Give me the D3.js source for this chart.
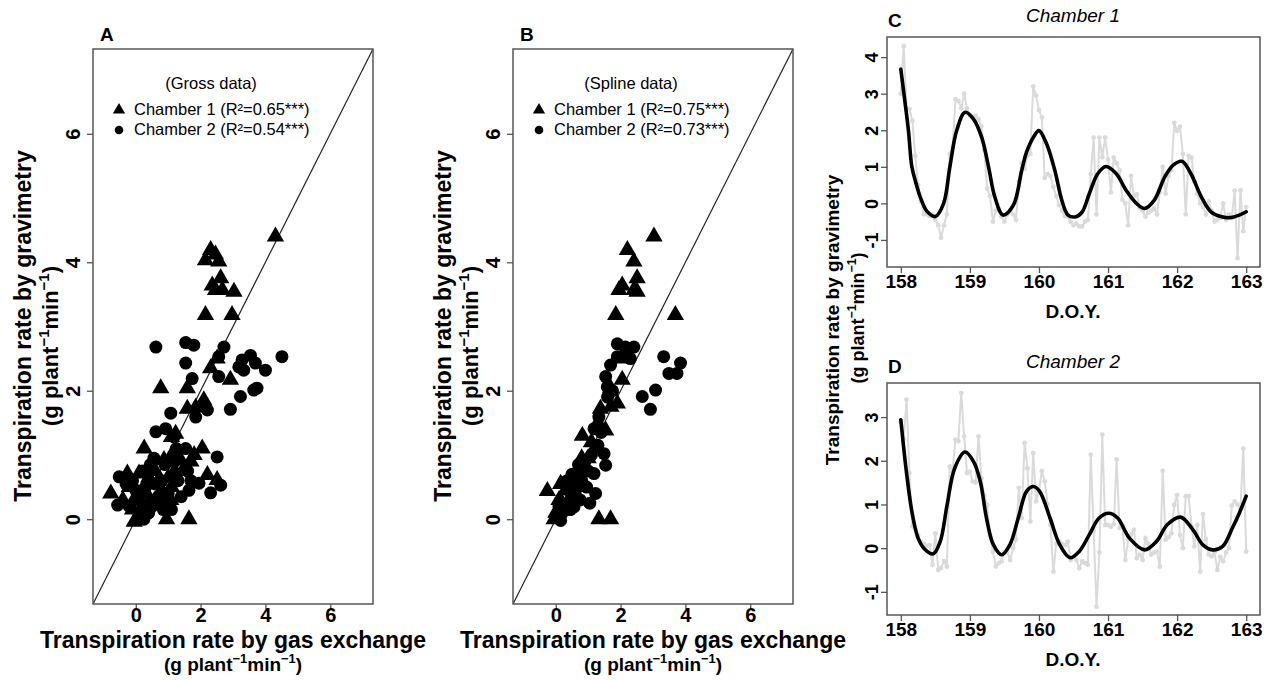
<!DOCTYPE html>
<html>
<head>
<meta charset="utf-8">
<script src="https://cdn.jsdelivr.net/npm/d3@7"></script>
<style>
  body { margin: 0; background: #fff; }
  text { font-family: 'Liberation Sans', Arial, Helvetica, sans-serif; }
</style>
</head>
<body>
<svg id="fig" width="1275" height="680"></svg>
<script>
// ---- data ----
// panel A (gross data): [gas exchange, gravimetry]
const grossCh1 = [[4.31,4.40],[2.31,4.19],[2.15,4.03],[2.56,4.01],[2.46,4.12],[2.62,3.75],[2.36,3.64],[2.46,3.57],
  [2.67,3.57],[3.03,3.54],[2.15,3.18],[2.97,3.18],[2.31,2.35],[2.51,2.50],[2.92,2.17],[0.77,2.04],[1.59,2.04],
  [2.10,1.85],[1.59,1.72],[1.85,1.74],[1.23,1.33],[1.10,1.28],[0.26,1.10],[2.05,1.10],[1.13,1.02],[2.21,0.69],
  [2.51,0.61],[-0.77,0.40],[-0.26,0.71],[0.10,0.71],[0.95,0.00],[1.64,0.00],[-0.05,-0.04],[0.05,0.00],[1.08,0.30],
  [1.38,0.92],[0.87,0.92],[0.50,0.55],[0.30,0.40],[0.20,0.20],[0.60,0.30],[-0.10,0.15],[0.15,0.05],[0.40,0.65],
  [0.70,0.60],[1.00,0.65],[1.20,0.75],[0.80,0.45],[-0.40,0.30],[-0.20,0.50],[0.00,0.35],[1.50,0.80],[1.70,0.90],
  [0.60,0.75],[0.30,0.15],[0.90,0.25],[1.10,0.50],[0.45,0.30],[1.80,1.00],[2.00,1.75]];
const grossCh2 = [[0.62,2.68],[1.54,2.75],[1.79,2.71],[2.72,2.68],[2.56,2.53],[1.54,2.43],[1.74,2.19],[2.56,2.22],
  [3.28,2.48],[3.54,2.55],[3.69,2.43],[4.00,2.32],[4.51,2.53],[3.33,2.32],[3.18,2.37],[3.74,2.04],[3.64,2.01],
  [3.23,1.91],[2.92,1.71],[1.08,1.65],[1.85,1.59],[2.21,1.70],[0.62,1.36],[0.92,1.41],[1.18,1.28],[1.54,1.10],
  [0.56,0.95],[2.51,0.97],[-0.51,0.66],[2.62,0.53],[2.31,0.41],[1.64,0.45],[1.95,0.56],[-0.56,0.22],[0.90,0.85],
  [1.20,0.90],[0.30,0.50],[0.00,0.45],[-0.20,0.20],[0.50,0.20],[0.80,0.60],[1.00,0.40],[1.30,0.60],[0.20,0.75],
  [0.40,0.10],[-0.30,0.55],[0.70,0.35],[1.40,0.35],[0.10,0.30],[0.60,0.55],[1.10,0.15],[0.25,0.00],[-0.10,0.60],
  [1.60,0.75],[0.85,0.15],[0.45,0.85],[1.25,1.10],[1.70,0.60]];

// panel B (spline data)
const splineCh1 = [[3.03,4.40],[2.21,4.19],[2.41,4.01],[2.51,3.75],[2.05,3.64],[1.95,3.57],[2.41,3.57],[2.51,3.54],
  [1.85,3.18],[3.69,3.18],[2.05,2.17],[1.69,2.04],[1.90,1.80],[1.38,1.72],[1.54,1.38],[0.82,1.30],[-0.26,0.44],
  [1.33,0.00],[1.69,0.00],[1.20,1.10],[1.00,0.95],[0.70,0.75],[0.50,0.60],[0.30,0.45],[0.10,0.30],[0.00,0.10],
  [0.20,0.25],[0.90,0.80],[0.60,0.50],[1.30,1.50],[1.70,1.75],[2.00,2.50],[0.40,0.30],[0.15,0.55],[-0.05,0.00],
  [1.10,1.20],[0.80,0.95]];
const splineCh2 = [[1.90,2.73],[2.41,2.68],[2.15,2.68],[1.90,2.53],[1.69,2.40],[1.54,2.22],[1.59,2.06],[2.20,2.60],
  [2.30,2.50],[3.33,2.53],[3.85,2.43],[3.49,2.27],[3.74,2.27],[2.67,1.91],[3.08,2.01],[2.92,1.71],[1.33,1.59],
  [1.18,1.41],[1.49,1.02],[1.54,0.84],[1.18,0.71],[1.23,0.40],[0.56,0.19],[0.15,-0.02],[0.90,0.90],[1.00,0.75],
  [0.80,0.60],[0.70,0.85],[0.60,0.40],[0.40,0.45],[0.30,0.20],[0.20,0.10],[0.05,0.05],[0.50,0.70],[1.10,1.00],
  [1.30,1.15],[0.95,0.50],[0.35,0.60],[0.75,0.30],[1.40,1.35],[1.60,1.90],[1.75,2.00],[0.10,0.20],[0.45,0.15],
  [1.05,0.25]];

// panels C/D: hourly gravimetric rate, DOY 158-163
const rawCh1 = [3.0,4.3,2.6,2.58,2.26,1.3,0.5,0.05,-0.3,-0.3,
  -0.35,-0.3,-0.45,-0.6,-0.94,-0.6,-0.3,1.35,1.55,2.85,
  2.8,2.6,3.0,2.6,2.4,2.35,2.4,2.3,2.1,1.45,
  0.4,0.2,-0.5,-0.2,-0.15,-0.35,-0.5,-0.3,-0.2,-0.3,
  -0.45,0.6,1.1,0.95,1.3,1.35,3.2,2.95,2.55,2.35,
  0.7,0.8,0.75,0.45,0.2,-0.05,-0.2,-0.35,-0.36,-0.5,
  -0.6,-0.55,-0.63,-0.63,-0.5,-0.45,0.8,1.8,-0.3,1.8,
  1.26,1.8,1.2,0.3,1.25,1.1,0.9,0.1,0.0,-0.6,
  0.75,0.2,0.25,-0.13,-0.2,-0.36,-0.25,-0.2,-0.14,-0.3,
  0.3,1.0,0.27,0.75,0.9,2.2,1.98,2.1,1.35,-0.3,
  1.3,1.25,0.6,0.27,0.0,-0.1,-0.3,0.05,-0.2,-0.5,
  -0.45,-0.4,0.0,-0.45,-0.3,-0.4,0.35,-1.5,0.36,-0.76,
  -0.1];
const rawCh2 = [2.9,2.5,3.4,1.72,0.5,0.45,0.3,0.15,0.1,0.05,
  0.07,-0.38,0.34,-0.5,-0.45,-0.3,-0.42,1.87,1.8,2.48,
  2.45,3.55,2.56,1.72,1.75,1.53,1.5,2.56,1.6,1.2,
  0.99,0.3,-0.08,-0.42,-0.35,-0.3,-0.1,-0.08,-0.27,0.0,
  0.2,1.38,0.69,2.41,1.83,0.61,2.18,1.07,1.3,1.76,
  1.53,1.0,0.53,-0.54,0.1,0.15,0.1,0.07,0.15,-0.27,
  -0.2,-0.27,-0.46,-0.3,-0.34,-0.38,2.14,0.4,-1.34,-0.1,
  2.6,0.53,0.53,0.49,0.55,2.03,0.46,0.5,-0.27,0.2,
  0.31,0.42,-0.23,-0.15,-0.27,0.23,0.1,-0.15,-0.1,-0.08,
  -0.42,1.77,0.19,0.25,0.34,0.99,1.22,0.3,0.0,1.19,
  1.19,0.5,0.04,0.53,-0.54,0.78,0.2,-0.15,-0.19,-0.1,
  -0.5,-0.2,-0.3,-0.1,0.0,0.97,1.07,1.0,0.9,2.28,
  -0.08];
const hoursPerDay = 24;
const startDOY = 158;

// smoothing spline nodes
const smoothCh1Doy = [158.00,158.055,158.11,158.16,158.22,158.28,158.38,158.50,158.62,158.71,158.81,158.93,159.05,
  159.17,159.27,159.36,159.48,159.63,159.75,159.82,159.92,160.00,160.11,160.23,160.33,160.42,160.52,160.62,160.73,
  160.85,160.97,161.12,161.26,161.41,161.53,161.67,161.82,161.94,162.07,162.20,162.35,162.49,162.63,162.76,162.90,163.00];
const smoothCh1Val = [3.67,2.85,2.00,1.00,0.55,0.18,-0.22,-0.36,0.00,1.00,2.00,2.49,2.31,
  1.81,1.00,0.18,-0.32,-0.05,0.90,1.40,1.81,1.99,1.63,0.90,0.09,-0.32,-0.37,-0.25,0.27,
  0.81,1.01,0.81,0.36,0.00,-0.14,0.09,0.72,1.04,1.15,0.81,0.18,-0.23,-0.36,-0.39,-0.32,-0.23];
const smoothCh2Doy = [158.00,158.08,158.16,158.25,158.35,158.47,158.57,158.67,158.78,158.93,159.05,159.15,159.24,
  159.34,159.46,159.58,159.70,159.82,159.92,160.01,160.16,160.30,160.45,160.58,160.73,160.87,161.01,161.14,161.31,
  161.53,161.70,161.86,162.05,162.23,162.37,162.51,162.66,162.80,162.90,163.00];
const smoothCh2Val = [2.94,1.76,0.84,0.23,-0.03,-0.13,0.15,0.99,1.83,2.20,1.99,1.53,0.69,
  0.08,-0.15,0.08,0.69,1.30,1.41,1.30,0.69,0.08,-0.22,-0.08,0.31,0.69,0.80,0.69,0.23,
  -0.04,0.15,0.54,0.71,0.42,0.08,-0.04,0.04,0.46,0.80,1.19];

const scatterTicks = [0, 2, 4, 6];
const doyTicks = [158, 159, 160, 161, 162, 163];

// ---- drawing ----
const svg = d3.select('#fig');
const boxColor = '#555';

function unitsLabel(sel, size) {
  sel.append('tspan').text('(g plant');
  sel.append('tspan').attr('font-size', size * 0.68).attr('dy', -size * 0.42).text('\u22121');
  sel.append('tspan').attr('dy', size * 0.42).text('min');
  sel.append('tspan').attr('font-size', size * 0.68).attr('dy', -size * 0.42).text('\u22121');
  sel.append('tspan').attr('dy', size * 0.42).text(')');
}

function styleText(sel, size, weight = 'bold') {
  return sel.style('font-size', size + 'px').style('font-weight', weight).attr('fill', '#000');
}

function scatterPanel(opt) {
  const lim = [-1.32, 7.32];
  const x = d3.scaleLinear().domain(lim).range([opt.left, opt.left + 280]);
  const y = d3.scaleLinear().domain(lim).range([604, 49]);
  const g = svg.append('g');

  g.append('clipPath').attr('id', opt.id).append('rect')
    .attr('x', x.range()[0]).attr('y', 49).attr('width', 280).attr('height', 555);

  // 1:1 line
  g.append('line')
    .attr('clip-path', `url(#${opt.id})`)
    .attr('x1', x(lim[0])).attr('y1', y(lim[0]))
    .attr('x2', x(lim[1])).attr('y2', y(lim[1]))
    .attr('stroke', '#222').attr('stroke-width', 1.2);

  const tri = d3.symbol(d3.symbolTriangle, 130);
  g.selectAll('path.c1').data(opt.ch1).join('path')
    .attr('class', 'c1')
    .attr('d', tri)
    .attr('transform', d => `translate(${x(d[0])},${y(d[1])})`)
    .attr('fill', '#000');
  g.selectAll('circle.c2').data(opt.ch2).join('circle')
    .attr('class', 'c2')
    .attr('cx', d => x(d[0])).attr('cy', d => y(d[1])).attr('r', 6.5)
    .attr('fill', '#000');

  g.append('rect')
    .attr('x', x.range()[0]).attr('y', 49).attr('width', 280).attr('height', 555)
    .attr('fill', 'none').attr('stroke', boxColor).attr('stroke-width', 1.5);

  // axes
  const ax = g.append('g').attr('transform', 'translate(0,604)')
    .call(d3.axisBottom(x).tickValues(scatterTicks).tickSize(5).tickFormat(d => String(d)));
  ax.select('.domain').remove();
  ax.selectAll('line').attr('stroke', boxColor).attr('stroke-width', 1.3);
  styleText(ax.selectAll('text').attr('y', 18).attr('dy', null), 20);

  const ay = g.append('g').attr('transform', `translate(${x.range()[0]},0)`)
    .call(d3.axisLeft(y).tickValues(scatterTicks).tickSize(6).tickFormat(d => String(d)));
  ay.select('.domain').remove();
  ay.selectAll('line').attr('stroke', boxColor).attr('stroke-width', 1.3);
  styleText(ay.selectAll('text')
    .attr('transform', 'rotate(-90)').attr('x', 0).attr('y', -13).attr('dy', null)
    .attr('text-anchor', 'middle'), 20);

  // titles
  const cx = (x.range()[0] + x.range()[1]) / 2;
  styleText(g.append('text').attr('x', cx).attr('y', 648).attr('text-anchor', 'middle')
    .text('Transpiration rate by gas exchange'), 23);
  unitsLabel(styleText(g.append('text').attr('x', cx).attr('y', 671).attr('text-anchor', 'middle'), 19), 19);

  const yl = opt.left - 93;
  styleText(g.append('text').attr('transform', `translate(${yl + 31},326) rotate(-90)`)
    .attr('text-anchor', 'middle').text('Transpiration rate by gravimetry'), 23);
  unitsLabel(styleText(g.append('text').attr('transform', `translate(${yl + 58},346) rotate(-90)`)
    .attr('text-anchor', 'middle'), 22), 22);

  styleText(g.append('text').attr('x', opt.left + 7).attr('y', 41).text(opt.letter), 19);

  // legend
  const lx = opt.left + 26;
  styleText(g.append('text').attr('x', opt.left + 118).attr('y', 89).attr('text-anchor', 'middle')
    .text(opt.legendTitle), 16.5, 'normal');
  g.append('path').attr('d', d3.symbol(d3.symbolTriangle, 65)())
    .attr('transform', `translate(${lx},110)`).attr('fill', '#000');
  g.append('circle').attr('cx', lx).attr('cy', 130).attr('r', 4.3).attr('fill', '#000');
  styleText(g.append('text').attr('x', lx + 15).attr('y', 115).text(`Chamber 1 (R\u00b2=${opt.r2[0]}***)`), 16.5, 'normal');
  styleText(g.append('text').attr('x', lx + 15).attr('y', 135).text(`Chamber 2 (R\u00b2=${opt.r2[1]}***)`), 16.5, 'normal');
}

scatterPanel({ id: 'clipA', left: 93, ch1: grossCh1, ch2: grossCh2, letter: 'A',
  legendTitle: '(Gross data)', r2: ['0.65', '0.54'] });
scatterPanel({ id: 'clipB', left: 513, ch1: splineCh1, ch2: splineCh2, letter: 'B',
  legendTitle: '(Spline data)', r2: ['0.75', '0.73'] });

function seriesPanel(opt) {
  const x = d3.scaleLinear().domain([157.8, 163.2]).range([887, 1260]);
  const y = d3.scaleLinear().domain(opt.ydom).range([opt.bottom, opt.top]);
  const g = svg.append('g');

  const raw = opt.raw.map((v, i) => [startDOY + i / hoursPerDay, v]);
  g.append('path').datum(raw)
    .attr('d', d3.line().x(d => x(d[0])).y(d => y(d[1])))
    .attr('fill', 'none').attr('stroke', '#dadada').attr('stroke-width', 2);
  g.selectAll('circle').data(raw).join('circle')
    .attr('cx', d => x(d[0])).attr('cy', d => y(d[1])).attr('r', 2.4).attr('fill', '#dadada');

  const smooth = opt.sDoy.map((d, i) => [d, opt.sVal[i]]);
  g.append('path').datum(smooth)
    .attr('d', d3.line().curve(d3.curveCatmullRom.alpha(0.5)).x(d => x(d[0])).y(d => y(d[1])))
    .attr('fill', 'none').attr('stroke', '#000').attr('stroke-width', 3.6)
    .attr('stroke-linecap', 'round').attr('stroke-linejoin', 'round');

  g.append('rect').attr('x', 887).attr('y', opt.top).attr('width', 373).attr('height', opt.bottom - opt.top)
    .attr('fill', 'none').attr('stroke', boxColor).attr('stroke-width', 1.5);

  const ax = g.append('g').attr('transform', `translate(0,${opt.bottom})`)
    .call(d3.axisBottom(x).tickValues(doyTicks).tickSize(6).tickFormat(d => String(d)));
  ax.select('.domain').remove();
  ax.selectAll('line').attr('stroke', boxColor).attr('stroke-width', 1.3);
  styleText(ax.selectAll('text').attr('y', 21).attr('dy', null), 19);

  const ay = g.append('g').attr('transform', 'translate(887,0)')
    .call(d3.axisLeft(y).tickValues(opt.yticks).tickSize(6).tickFormat(d => String(d)));
  ay.select('.domain').remove();
  ay.selectAll('line').attr('stroke', boxColor).attr('stroke-width', 1.3);
  styleText(ay.selectAll('text')
    .attr('transform', 'rotate(-90)').attr('x', 0).attr('y', -9).attr('dy', null)
    .attr('text-anchor', 'middle'), 18);

  styleText(g.append('text').attr('x', 1073).attr('y', opt.bottom + 51).attr('text-anchor', 'middle')
    .text('D.O.Y.'), 19);
  styleText(g.append('text').attr('x', 888).attr('y', opt.top - 10).text(opt.letter), 19);
  styleText(g.append('text').attr('x', 1073).attr('y', opt.top - 15).attr('text-anchor', 'middle')
    .attr('font-style', 'italic').text(opt.title), 19, 'normal');
}

seriesPanel({ top: 37, bottom: 267, ydom: [-1.74, 4.55], yticks: [-1, 0, 1, 2, 3, 4],
  raw: rawCh1, sDoy: smoothCh1Doy, sVal: smoothCh1Val, letter: 'C', title: 'Chamber 1' });
seriesPanel({ top: 383, bottom: 615, ydom: [-1.53, 3.78], yticks: [-1, 0, 1, 2, 3],
  raw: rawCh2, sDoy: smoothCh2Doy, sVal: smoothCh2Val, letter: 'D', title: 'Chamber 2' });

// shared y title for C/D
styleText(svg.append('text').attr('transform', 'translate(839,320) rotate(-90)')
  .attr('text-anchor', 'middle').text('Transpiration rate by gravimetry'), 19);
unitsLabel(styleText(svg.append('text').attr('transform', 'translate(864,318) rotate(-90)')
  .attr('text-anchor', 'middle'), 18), 18);
</script>
</body>
</html>
